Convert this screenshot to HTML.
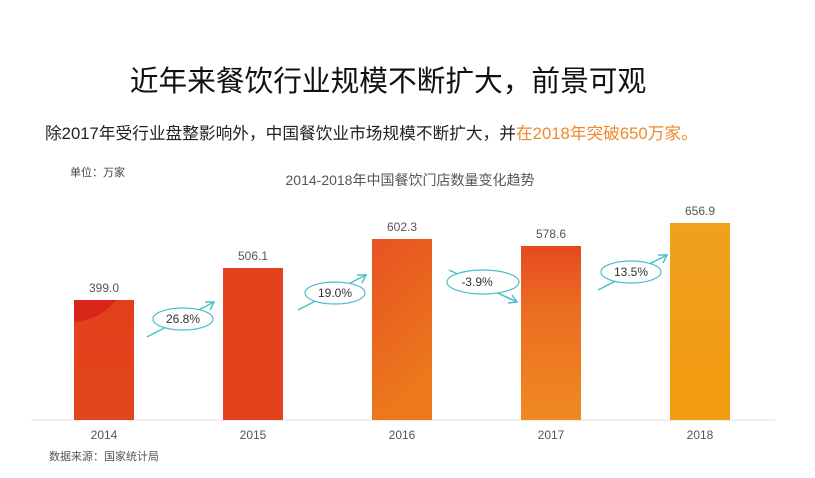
<!DOCTYPE html>
<html><head><meta charset="utf-8"><style>
body{margin:0;background:#fff;}
svg text{font-family:"Liberation Sans","Noto Sans CJK SC",sans-serif;}
</style></head><body>
<svg width="815" height="473" xmlns="http://www.w3.org/2000/svg">
<defs>
<linearGradient id="g1" x1="0" y1="0" x2="0" y2="1"><stop offset="0" stop-color="#e2401c"/><stop offset="1" stop-color="#e2461e"/></linearGradient>
<linearGradient id="g3" x1="0" y1="0" x2="0.3" y2="1"><stop offset="0" stop-color="#e75222"/><stop offset="1" stop-color="#ec7a1c"/></linearGradient>
<linearGradient id="g4" x1="0" y1="0" x2="0" y2="1"><stop offset="0" stop-color="#e5491f"/><stop offset="0.35" stop-color="#ec6c22"/><stop offset="1" stop-color="#f08a22"/></linearGradient>
<linearGradient id="g5" x1="0" y1="0" x2="0" y2="1"><stop offset="0" stop-color="#f0a11e"/><stop offset="1" stop-color="#f29a10"/></linearGradient>
</defs>
<text x="388" y="91" font-size="28.7" text-anchor="middle" fill="#111">近年来餐饮行业规模不断扩大，前景可观</text>
<text x="45" y="139" font-size="16.7" fill="#222">除2017年受行业盘整影响外，中国餐饮业市场规模不断扩大，并<tspan fill="#ee8a2a">在2018年突破650万家。</tspan></text>
<text x="70" y="176" font-size="11" fill="#444">单位：万家</text>
<text x="410" y="185" font-size="14" text-anchor="middle" fill="#555">2014-2018年中国餐饮门店数量变化趋势</text>
<line x1="31" y1="420" x2="775" y2="420" stroke="#ddd" stroke-width="1"/>
<rect x="74" y="300" width="60" height="120" fill="url(#g1)"/>
<path d="M74 300 L116 300 Q100 320 74 322 Z" fill="#d9241a"/>
<rect x="223" y="268" width="60" height="152" fill="#e2431d"/>
<rect x="372" y="239" width="60" height="181" fill="url(#g3)"/>
<rect x="521" y="246" width="60" height="174" fill="url(#g4)"/>
<rect x="670" y="223" width="60" height="197" fill="url(#g5)"/>
<g font-size="12" fill="#555" text-anchor="middle">
<text x="104" y="292">399.0</text><text x="253" y="260">506.1</text><text x="402" y="231">602.3</text><text x="551" y="238">578.6</text><text x="700" y="215">656.9</text>
<text x="104" y="439">2014</text><text x="253" y="439">2015</text><text x="402" y="439">2016</text><text x="551" y="439">2017</text><text x="700" y="439">2018</text>
</g>
<text x="49" y="460" font-size="11" fill="#555">数据来源：国家统计局</text>
<g stroke="#4bbfc8" stroke-width="1.5" fill="none">
<line x1="147" y1="337" x2="214" y2="302"/><path d="M205 302 L214 302 L210 310"/>
<line x1="298" y1="310" x2="366" y2="275"/><path d="M357 275 L366 275 L362 283"/>
<line x1="449" y1="270" x2="517" y2="302"/><path d="M508 303 L517 302 L512 295"/>
<line x1="598" y1="290" x2="667" y2="255"/><path d="M658 255 L667 255 L663 263"/>
</g>
<g stroke="#4bbfc8" stroke-width="1.2" fill="#fff">
<ellipse cx="183" cy="319" rx="30" ry="11"/><ellipse cx="335" cy="293" rx="30" ry="11"/>
<ellipse cx="483" cy="282" rx="36" ry="12"/><ellipse cx="631" cy="272" rx="30" ry="11"/>
</g>
<g font-size="12" fill="#333" text-anchor="middle">
<text x="183" y="323">26.8%</text><text x="335" y="297">19.0%</text><text x="477" y="286">-3.9%</text><text x="631" y="276">13.5%</text>
</g>
</svg>
</body></html>
